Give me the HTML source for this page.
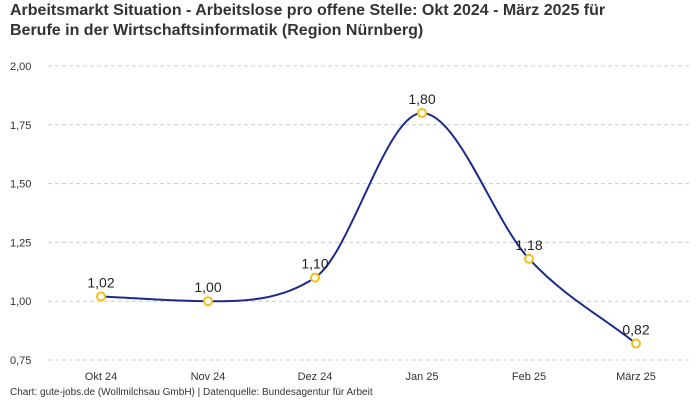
<!DOCTYPE html>
<html><head><meta charset="utf-8"><style>
body{margin:0;background:#fff;width:700px;height:400px;overflow:hidden;font-family:"Liberation Sans",sans-serif}
.t{position:absolute;left:10px;top:1px;font-size:16px;font-weight:bold;color:#333;line-height:20px}
.src{position:absolute;left:10px;top:387px;font-size:10px;color:#333}
</style></head><body>
<div class="t">Arbeitsmarkt Situation - Arbeitslose pro offene Stelle: Okt 2024 - März 2025 für<br>Berufe in der Wirtschaftsinformatik (Region Nürnberg)</div>
<svg id="c" width="700" height="400" style="position:absolute;left:0;top:0"></svg>
<div class="src">Chart: gute-jobs.de (Wollmilchsau GmbH) | Datenquelle: Bundesagentur für Arbeit</div>
<script>
const categories=["Okt 24","Nov 24","Dez 24","Jan 25","Feb 25","März 25"];
const values=[1.02,1.00,1.10,1.80,1.18,0.82];
const labels=["1,02","1,00","1,10","1,80","1,18","0,82"];
const yTicks=[0.75,1.00,1.25,1.50,1.75,2.00];
const yTickLabels=["0,75","1,00","1,25","1,50","1,75","2,00"];
const svg=document.getElementById('c');const NS='http://www.w3.org/2000/svg';
const y=v=>360-(v-0.75)*235.2;
const x=i=>101+i*107;
function mk(t,a){const e=document.createElementNS(NS,t);for(const k in a)e.setAttribute(k,a[k]);svg.appendChild(e);return e;}
yTicks.forEach((v,i)=>{
 const l=mk('line',{x1:48,x2:690,y1:y(v),y2:y(v),stroke:'#ccc','stroke-dasharray':'4,3'});
 
 
 const t=mk('text',{x:10,y:y(v)+4,'font-size':11,fill:'#333'});t.textContent=yTickLabels[i];
 
 
});
categories.forEach((c,i)=>{
 const t=mk('text',{x:x(i),y:380,'font-size':11,fill:'#333','text-anchor':'middle'});t.textContent=c;
 
 
});
// monotone cubic
const n=values.length,px=values.map((v,i)=>x(i)),py=values.map(v=>y(v));
const d=[],m=[];for(let i=0;i<n-1;i++)d.push((py[i+1]-py[i])/(px[i+1]-px[i]));
m[0]=d[0];m[n-1]=d[n-2];
for(let i=1;i<n-1;i++){m[i]=(d[i-1]*d[i]<=0)?0:(d[i-1]+d[i])/2;}
for(let i=0;i<n-1;i++){if(d[i]===0){m[i]=m[i+1]=0;continue;}const a=m[i]/d[i],b=m[i+1]/d[i],s=a*a+b*b;if(s>9){const t=3/Math.sqrt(s);m[i]=t*a*d[i];m[i+1]=t*b*d[i];}}
let p='M'+px[0]+','+py[0];
for(let i=0;i<n-1;i++){const h=(px[i+1]-px[i])/3;p+=`C${px[i]+h},${py[i]+m[i]*h} ${px[i+1]-h},${py[i+1]-m[i+1]*h} ${px[i+1]},${py[i+1]}`;}
const line=mk('path',{d:p,fill:'none',stroke:'#1a2a8c','stroke-width':2});


values.forEach((v,i)=>{
 const c=mk('circle',{cx:x(i),cy:y(v),r:4,fill:'#fff',stroke:'#f5c01a','stroke-width':2});
 
 
 const t=mk('text',{x:x(i),y:y(v)-9,'font-size':14,fill:'#222','text-anchor':'middle'});t.textContent=labels[i];
 
 
});
</script>
</body></html>
